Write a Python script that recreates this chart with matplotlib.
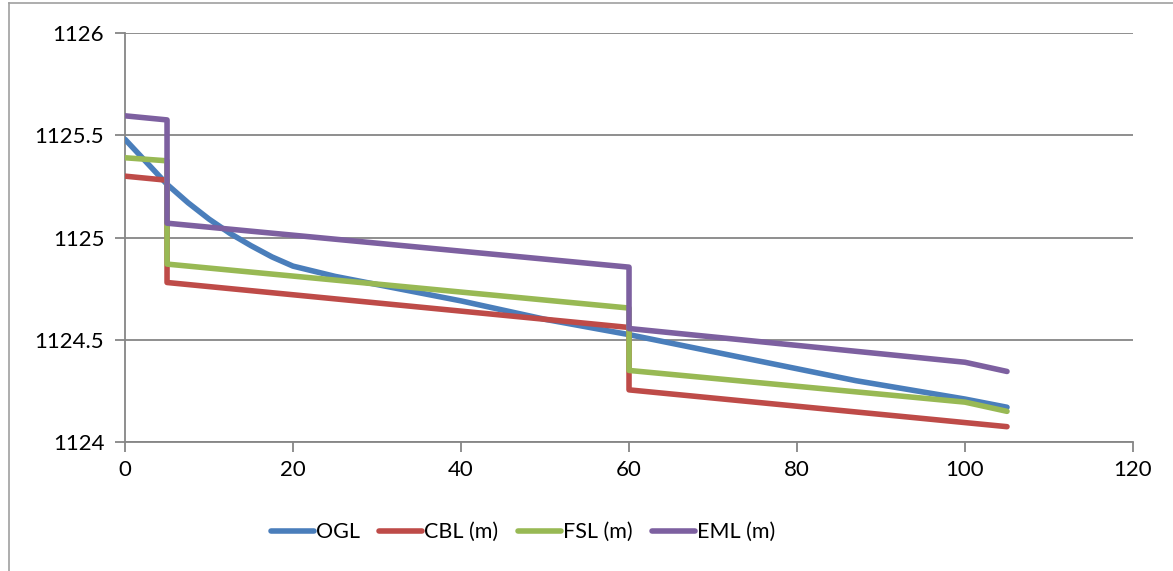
import matplotlib.pyplot as plt
from matplotlib.lines import Line2D

# chainage (m) and levels
ogl_x = [0, 2.5, 5, 7.5, 10, 12.5, 15, 17.5, 20, 25, 30, 40, 50, 60, 75, 87, 100, 105]
ogl_y = [1125.48, 1125.37, 1125.26, 1125.17, 1125.09, 1125.02, 1124.96, 1124.905,
         1124.86, 1124.81, 1124.77, 1124.69, 1124.60, 1124.525, 1124.40, 1124.30,
         1124.21, 1124.17]

step_x = [0, 5, 5, 60, 60, 100, 105]
cbl_y = [1125.30, 1125.28, 1124.78, 1124.56, 1124.255, 1124.095, 1124.075]
fsl_y = [1125.39, 1125.375, 1124.87, 1124.655, 1124.35, 1124.195, 1124.15]
eml_y = [1125.595, 1125.575, 1125.07, 1124.855, 1124.555, 1124.39, 1124.345]

labels = ["OGL", "CBL (m)", "FSL (m)", "EML (m)"]
colors = ["#4A7EBB", "#BE4B48", "#98B954", "#7D60A0"]

plt.rcParams['font.family'] = ['Lato', 'DejaVu Sans']
fig = plt.figure(figsize=(11.73, 5.71), dpi=100)
ax = fig.add_axes([0.1066, 0.2259, 0.8593, 0.7163])

lw = 4.0
for xs, ys, c in [(ogl_x, ogl_y, colors[0]), (step_x, cbl_y, colors[1]),
                  (step_x, fsl_y, colors[2]), (step_x, eml_y, colors[3])]:
    ax.plot(xs, ys, color=c, lw=lw, solid_joinstyle='round',
            solid_capstyle='round', zorder=3)

ax.set_xlim(0, 120)
ax.set_ylim(1124, 1126)
ax.set_xticks(range(0, 121, 20))
ax.set_yticks([1124, 1124.5, 1125, 1125.5, 1126])
ax.set_yticklabels(["1124", "1124.5", "1125", "1125.5", "1126"])

grid_c = "#868686"
ax.yaxis.grid(True, color=grid_c, lw=1.3)
ax.set_axisbelow(True)
for s in ["top", "right"]:
    ax.spines[s].set_visible(False)
for s in ["left", "bottom"]:
    ax.spines[s].set_color(grid_c)
    ax.spines[s].set_linewidth(1.3)
ax.tick_params(axis='both', colors=grid_c, length=7, width=1.3, labelsize=16,
               labelcolor="black", direction='out')
ax.tick_params(axis='y', pad=8)
ax.tick_params(axis='x', pad=6)

handles = [Line2D([], [], color=c, lw=lw, solid_capstyle='round') for c in colors]
fig.legend(handles, labels, loc='center', bbox_to_anchor=(0.446, 0.068), ncol=4,
           frameon=False, fontsize=15.5, handlelength=2.0, handletextpad=0.1,
           columnspacing=0.9)

# chart border
fig.add_artist(Line2D([0.0077, 0.0077], [0, 0.995], color="#A0A0A0", lw=1.2,
                      transform=fig.transFigure))
fig.add_artist(Line2D([0.0077, 1.0], [0.995, 0.995], color="#A0A0A0", lw=1.2,
                      transform=fig.transFigure))

fig.savefig("out.png", dpi=100)
